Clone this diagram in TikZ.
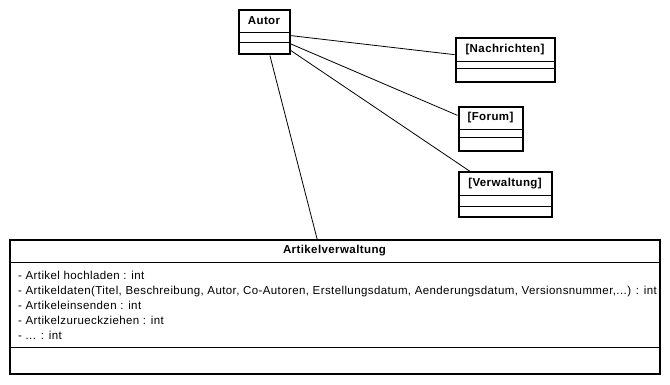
\documentclass[tikz,border=0pt]{standalone}
\usepackage{fontspec}
\setmainfont{Liberation Sans}[LetterSpace=3.5]
\usetikzlibrary{calc, positioning}
\tikzset{
  classbox/.style={rectangle, draw=black, line width=2pt, inner sep=0pt},
  divider/.style={line width=1pt},
  classname/.style={font=\fontsize{11.5pt}{14pt}\selectfont\bfseries, inner sep=0pt},
  member/.style={anchor=north west, align=left, inner sep=0pt, font=\fontsize{11.5pt}{15pt}\selectfont},
  assoc/.style={line width=0.8pt}
}

\begin{document}
\begin{tikzpicture}[x=1pt, y=-1pt]
    \useasboundingbox (0,0) rectangle (670,385);
    
    % Klassen
    \node[classbox, minimum width=51pt, minimum height=44pt] (autor) at (264,32.5) {};
    \node[classbox, minimum width=99pt, minimum height=44pt] (nachrichten) at (505,60.5) {};
    \node[classbox, minimum width=64pt, minimum height=44pt] (forum) at (490.5,129.5) {};
    \node[classbox, minimum width=93pt, minimum height=45pt] (verwaltung) at (505,195) {};
    \node[classbox, minimum width=650pt, minimum height=133pt] (artikel) at (334.5,307) {};
    
    % Trennlinien
    \draw[divider] ($(autor.north west)+(0,23)$) -- ($(autor.north east)+(0,23)$);
    \draw[divider] ($(autor.north west)+(0,33)$) -- ($(autor.north east)+(0,33)$);
    \draw[divider] ($(nachrichten.north west)+(0,24)$) -- ($(nachrichten.north east)+(0,24)$);
    \draw[divider] ($(nachrichten.north west)+(0,31.5)$) -- ($(nachrichten.north east)+(0,31.5)$);
    \draw[divider] ($(forum.north west)+(0,23)$) -- ($(forum.north east)+(0,23)$);
    \draw[divider] ($(forum.north west)+(0,31)$) -- ($(forum.north east)+(0,31)$);
    \draw[divider] ($(verwaltung.north west)+(0,24)$) -- ($(verwaltung.north east)+(0,24)$);
    \draw[divider] ($(verwaltung.north west)+(0,35)$) -- ($(verwaltung.north east)+(0,35)$);
    \draw[divider] ($(artikel.north west)+(0,23)$) -- ($(artikel.north east)+(0,23)$);
    \draw[divider] ($(artikel.south west)+(0,-27)$) -- ($(artikel.south east)+(0,-27)$);
    
    % Namen
    \node[classname] (autorname) at ($(autor.north)+(0,11.5)$) {Autor};
    \node[classname] (nachrichtenname) at ($(nachrichten.north)+(0,12)$) {[Nachrichten]};
    \node[classname] (forumname) at ($(forum.north)+(0,11.5)$) {[Forum]};
    \node[classname] (verwaltungname) at ($(verwaltung.north)+(0,12)$) {[Verwaltung]};
    \node[classname] (artikelname) at ($(artikel.north)+(0,11.5)$) {Artikelverwaltung};
    
    % Attribute
    \node[member] (attribute) at (18,271) {- Artikel hochladen : int\\
      - Artikeldaten(Titel, Beschreibung, Autor, Co-Autoren, Erstellungsdatum, Aenderungsdatum, Versionsnummer,...) : int\\
      - Artikeleinsenden : int\\
      - Artikelzurueckziehen : int\\
      - ... : int};
    
    % Assoziationen
    \draw[assoc] (autor) -- (nachrichten);
    \draw[assoc] (autor) -- (forum);
    \draw[assoc] (autor) -- (verwaltung);
    \draw[assoc] (autor) -- (artikel);
    
\end{tikzpicture}
\end{document}
